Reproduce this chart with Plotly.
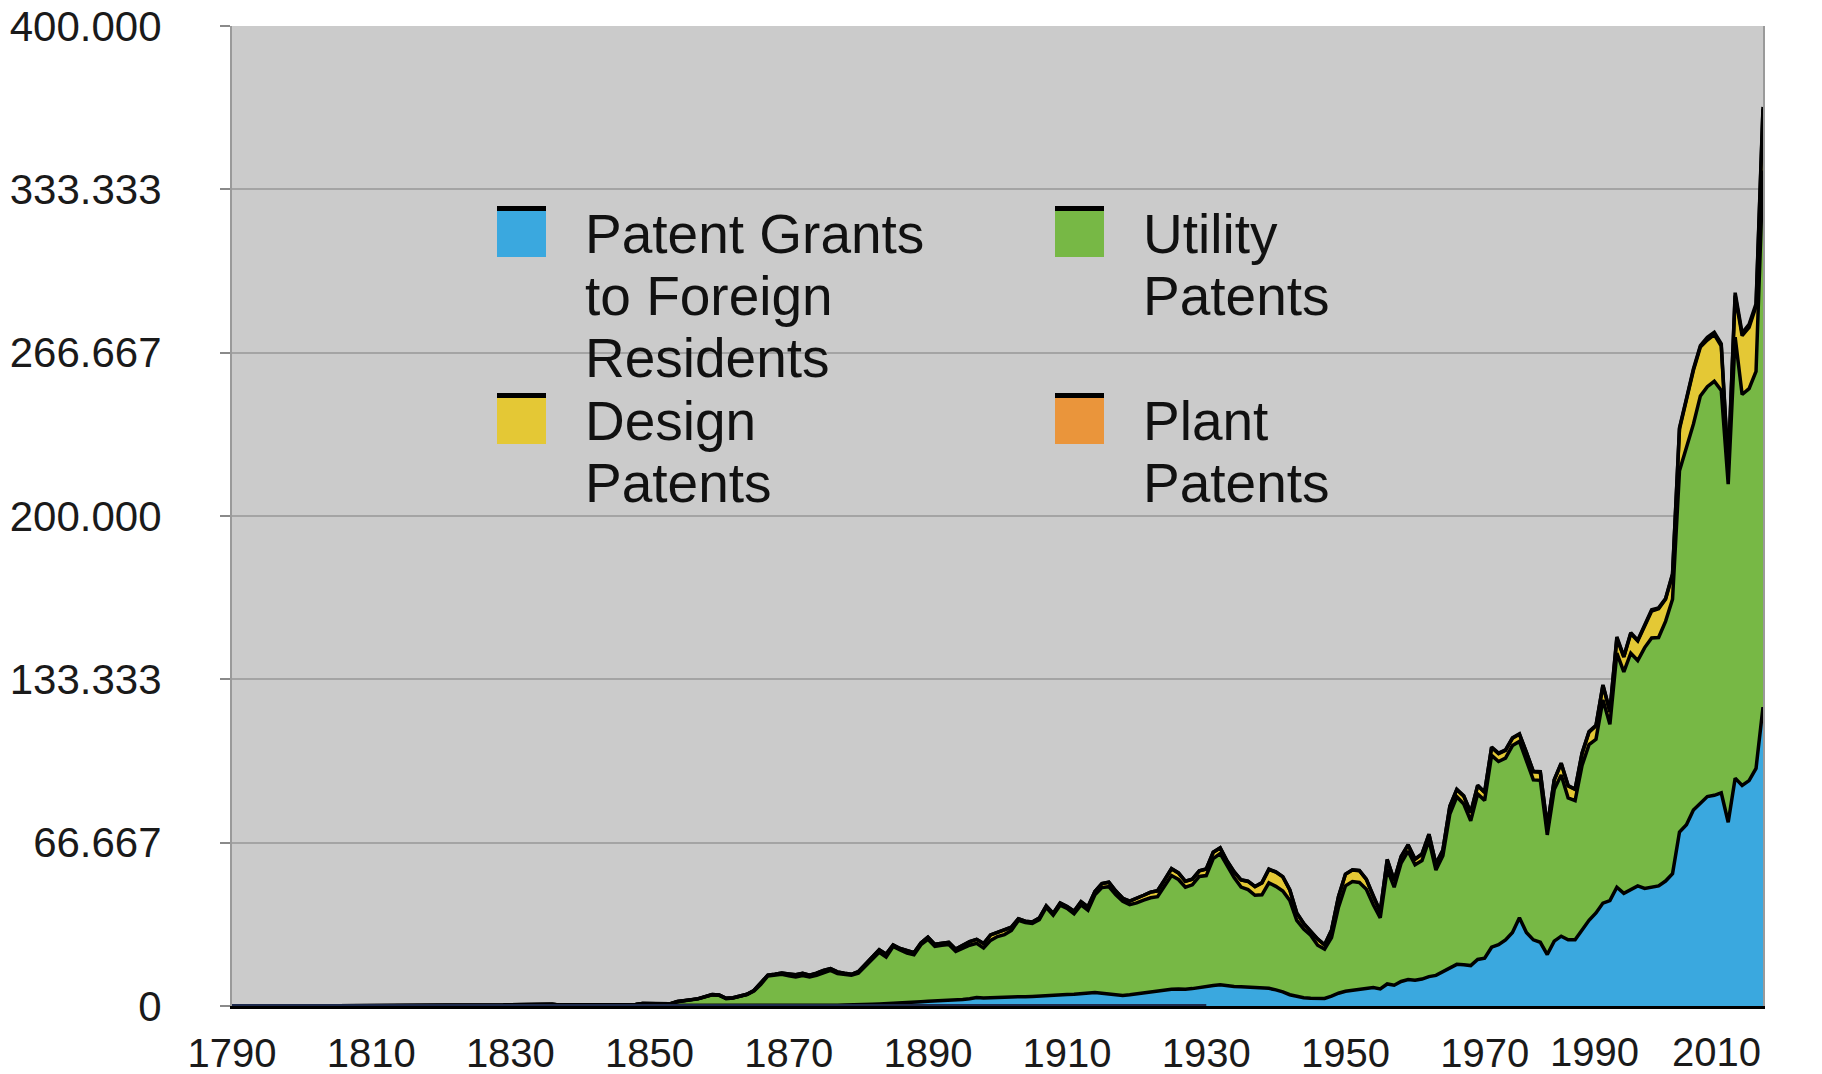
import plotly.graph_objects as go

# ---------------- data ----------------
years = list(range(1790, 2011))

foreign = [0] * 80 + [
    200, 200, 250, 250, 300, 350, 350, 350, 400, 400,
    500, 600, 700, 800, 900, 1000, 1100, 1200, 1400, 1700,
    1900, 2000, 2100, 2300, 2400, 2700, 3000, 3500, 3300, 3500,
    3700, 3600, 3700, 3900, 3800, 3900, 4100, 4400, 4300, 4600,
    4700, 4800, 5100, 5200, 5500, 5200, 4800, 4500, 4300, 4600,
    5000, 5400, 5800, 6000, 6400, 6800, 6900, 6800, 7100, 7600,
    8000, 8400, 8700, 8300, 8000, 7900, 7700, 7500, 7300, 7200,
    6600, 5800, 4600, 3900, 3400, 3200, 3000, 3100, 4000, 5200,
    6000, 6400, 6800, 7200, 7500, 7000, 9000, 8500, 10000, 10800,
    10500, 11000, 12000, 12500, 14000, 15500, 17000, 16800, 16500, 19000,
    19500, 24000, 25000, 27000, 30000, 36000, 30000, 27000, 26000, 21000,
    26500, 28500, 27000, 27000, 31000, 35000, 38000, 42000, 43000, 48500,
    46000, 47500, 49000, 48000, 48500, 49000, 51000, 54000, 71000, 74000,
    80000, 83000, 85500, 86000, 87000, 75000, 93000, 90000, 92000, 97000,
    122000,
]

utility = [
    3, 33, 11, 20, 22, 12, 44, 51, 28, 44,
    41, 44, 65, 97, 84, 57, 63, 99, 158, 203,
    223, 215, 238, 181, 210, 173, 206, 174, 222, 156,
    155, 168, 200, 173, 228, 304, 323, 331, 368, 447,
    544, 573, 474, 586, 630, 752, 702, 426, 514, 404,
    458, 490, 488, 493, 478, 473, 566, 495, 583, 984,
    883, 752, 885, 844, 1755, 2024, 2502, 2910, 3710, 4538,
    4357, 3020, 3214, 3773, 4630, 6088, 8863, 12277, 12526, 12931,
    12137, 11659, 12180, 11616, 12230, 13291, 14169, 12920, 12345, 12133,
    12903, 15548, 18135, 21162, 19118, 23285, 21767, 20403, 19551, 23324,
    25313, 22328, 22661, 22768, 19875, 20856, 21822, 22067, 20377, 23278,
    24644, 25546, 27136, 31029, 30258, 29775, 31170, 35859, 32757, 36561,
    35141, 32856, 36198, 33917, 39892, 43118, 43892, 40935, 38452, 36797,
    37060, 37798, 38369, 38616, 42574, 46432, 44733, 41717, 42357, 45267,
    45226, 51756, 53504, 48774, 44420, 40618, 39831, 37683, 38061, 43073,
    42238, 41109, 38514, 31054, 28053, 25695, 21803, 20139, 23963, 35131,
    43040, 44384, 43616, 40468, 33809, 29000, 46817, 40000, 48330, 52408,
    47170, 48368, 55691, 43000, 47376, 62857, 68405, 65652, 59104, 67559,
    64429, 78317, 74810, 74143, 76278, 72000, 70226, 65269, 66102, 48854,
    61819, 65771, 57888, 56860, 67200, 71661, 70860, 82952, 72000, 95537,
    90400, 96500, 92000, 98300, 101700, 101400, 106000, 112000, 147500, 153500,
    157500, 166000, 167300, 169000, 164300, 138000, 180000, 159600, 160000, 162000,
    219000,
]

design = [0] * 50 + [
    0, 0, 0, 14, 19, 59, 60, 60, 46, 49,
    90, 90, 109, 107, 65, 55, 104, 107, 102, 107,
    183, 142, 195, 182, 149, 257, 431, 325, 445, 500,
    737, 904, 884, 747, 886, 915, 785, 654, 589, 419,
    634, 744, 1000, 1020, 1150, 593, 590, 977, 801, 730,
    886, 836, 894, 900, 928, 1115, 1447, 1631, 1803, 2225,
    1754, 1734, 1321, 661, 580, 574, 626, 610, 689, 847,
    746, 1022, 1316, 1360, 1390, 1640, 1810, 1480, 1220, 1450,
    1800, 2000, 2300, 2400, 2500, 2800, 2700, 2400, 2300, 2300,
    2700, 2600, 2300, 2000, 2300, 2900, 3300, 3500, 4900, 5500,
    5800, 5800, 4300, 3000, 2200, 1800, 2500, 1700, 3000, 4300,
    4700, 4700, 4800, 4000, 3300, 2500, 3900, 2700, 2600, 2500,
    2200, 2600, 2300, 2400, 2200, 3100, 2900, 3200, 3300, 3400,
    3200, 3200, 3200, 3200, 3000, 2900, 3400, 3300, 3300, 3100,
    3900, 4700, 4900, 4500, 4900, 5100, 5500, 5900, 5000, 6000,
    6000, 8000, 8000, 9000, 11000, 11700, 9000, 10000, 17000, 20000,
    22000, 20000, 19000, 19000, 18000, 7000, 17000, 24000, 25000, 26600,
    25000,
]

plant = [None] * 141 + [
    5, 50, 80, 90, 100, 120, 110, 100, 110,
    100, 90, 80, 60, 50, 50, 60, 70, 80, 90,
    100, 110, 120, 100, 90, 100, 110, 120, 130, 140,
    150, 140, 130, 120, 120, 110, 120, 130, 140, 150,
    160, 170, 180, 190, 200, 200, 180, 200, 200, 180,
    120, 180, 230, 200, 220, 240, 230, 230, 420, 630,
    300, 350, 320, 410, 500, 390, 360, 390, 560, 420,
    550, 580, 1130, 990, 1020, 720, 1150, 1050, 1240, 1000,
    980,
]

x_ticks = list(range(1790, 2011, 20))
y_ticks = [0, 66667, 133333, 200000, 266667, 333333, 400000]
y_tick_text = ["0", "66.667", "133.333", "200.000", "266.667", "333.333", "400.000"]

series = [
    ("Patent Grants|to Foreign|Residents", foreign, "#3aa8df"),
    ("Utility|Patents", utility, "#77b845"),
    ("Design|Patents", design, "#e4c835"),
    ("Plant|Patents", plant, "#ea953b"),
]

# ---------------- layout constants ----------------
OFF = 8                      # default page (body) margin around the figure
W, H = 1822 - OFF, 1074 - OFF
L, R, T, B = 232 - OFF, 59, 26 - OFF, 68
PW, PH = W - L - R, H - T - B
FONT = "Liberation Sans, Arial, Helvetica, sans-serif"
TICKFONT = dict(family=FONT, size=40, color="#1a1a1a")


def px(x, y):
    """page pixel -> paper coordinates"""
    return (x - OFF - L) / PW, (H - B - (y - OFF)) / PH


fig = go.Figure()
for name, vals, color in series:
    fig.add_trace(go.Scatter(
        x=years, y=vals, name=name.replace("|", " "),
        mode="lines", stackgroup="one",
        line=dict(color="black", width=3.5),
        fillcolor=color, showlegend=False,
    ))

# dark baseline where plant series has no data
fig.add_trace(go.Scatter(
    x=years, y=[0 if p is None else None for p in plant],
    mode="lines", line=dict(color="#1d2a4c", width=4),
    showlegend=False, hoverinfo="skip",
))

# ---------------- manual legend ----------------
shapes = []
annotations = []
legend_pos = [
    (497, 206),   # foreign
    (1055, 206),  # utility
    (497, 393),   # design
    (1055, 393),  # plant
]
for (name, _, color), (lx, ly) in zip(series, legend_pos):
    x0, y0 = px(lx, ly)
    x1, y1 = px(lx + 49, ly + 51)
    shapes.append(dict(type="rect", xref="paper", yref="paper",
                       x0=x0, x1=x1, y0=y1, y1=y0,
                       fillcolor=color, line=dict(width=0), layer="above"))
    bx0, by = px(lx, ly + 2.5)
    bx1, _ = px(lx + 49, ly + 2.5)
    shapes.append(dict(type="line", xref="paper", yref="paper",
                       x0=bx0, x1=bx1, y0=by, y1=by,
                       line=dict(color="black", width=5), layer="above"))
    for i, line in enumerate(name.split("|")):
        tx, ty = px(lx + 86, ly + 28 + i * 62)
        annotations.append(dict(
            x=tx, y=ty, xref="paper", yref="paper", text=line,
            showarrow=False, xanchor="left", yanchor="middle",
            font=dict(family=FONT, size=55, color="#111111"),
        ))

# the last two x labels are pushed left so that "2010" stays inside the plot
_, lab_y = px(0, 1052)
annotations.append(dict(
    x=x_ticks[-1], xref="x", y=lab_y, yref="paper", text=str(x_ticks[-1]),
    showarrow=False, xanchor="right", yanchor="middle", font=TICKFONT,
))
annotations.append(dict(
    x=x_ticks[-2], xref="x", y=lab_y, yref="paper", text=str(x_ticks[-2]),
    showarrow=False, xanchor="center", yanchor="middle", xshift=-29,
    font=TICKFONT,
))

fig.update_layout(
    width=W, height=H,
    margin=dict(l=L, r=R, t=T, b=B, pad=0, autoexpand=False),
    paper_bgcolor="white",
    plot_bgcolor="#cbcbcb",
    showlegend=False,
    shapes=shapes,
    annotations=annotations,
    xaxis=dict(
        range=[1790, 2010], tickvals=x_ticks[:-2],
        ticktext=[str(v) for v in x_ticks[:-2]],
        automargin=False, ticklabeloverflow="allow",
        showgrid=False, zeroline=False,
        showline=True, linecolor="black", linewidth=3,
        ticks="", ticklabelstandoff=10,
        tickfont=TICKFONT,
    ),
    yaxis=dict(
        range=[0, 400000], tickvals=y_ticks, ticktext=y_tick_text,
        automargin=False, ticklabeloverflow="allow",
        showgrid=True, gridcolor="#a4a4a4", gridwidth=2,
        zeroline=False, showline=True, linecolor="#9a9a9a", linewidth=2,
        mirror=True,
        ticks="outside", ticklen=10, tickwidth=2, tickcolor="#8a8a8a",
        ticklabelstandoff=50,
        tickfont=dict(family=FONT, size=42, color="#1a1a1a"),
    ),
)

fig.write_html("out.html")
